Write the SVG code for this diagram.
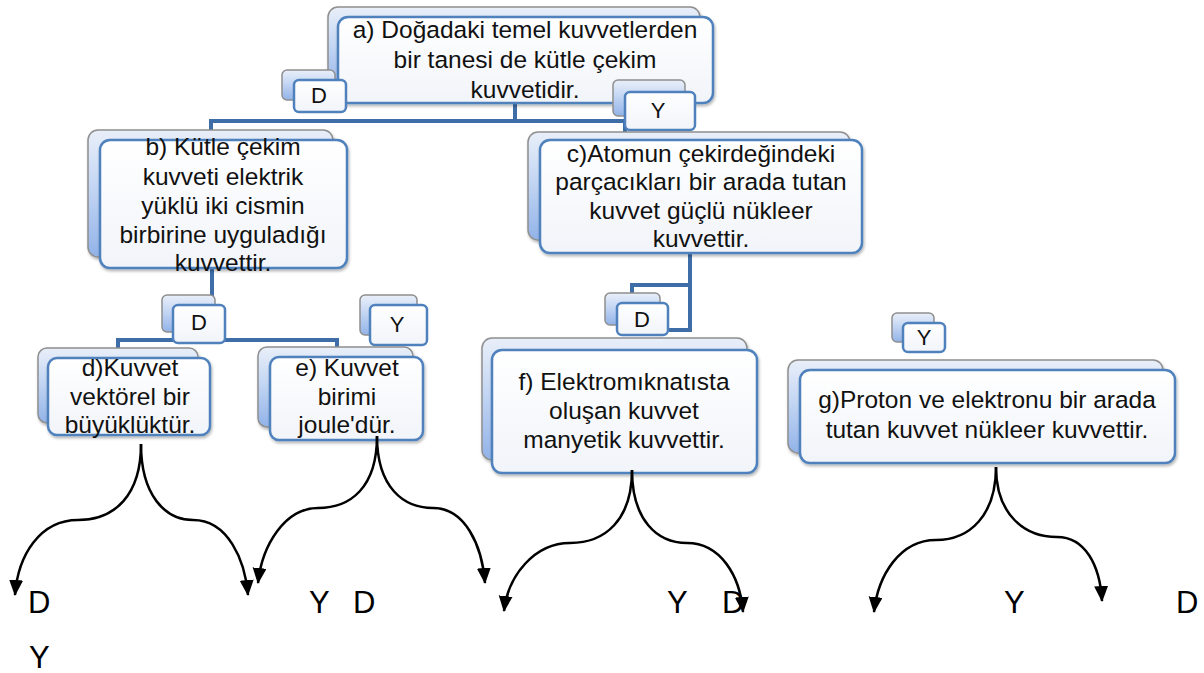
<svg xmlns="http://www.w3.org/2000/svg" width="1204" height="673" viewBox="0 0 1204 673">
<defs>
<linearGradient id="backG" x1="0" y1="0" x2="0" y2="1">
<stop offset="0" stop-color="#e9eff9"/>
<stop offset="0.4" stop-color="#c8d9f4"/>
<stop offset="1" stop-color="#92b3e8"/>
</linearGradient>
<linearGradient id="frontG" x1="0" y1="0" x2="0" y2="1">
<stop offset="0" stop-color="#ffffff"/>
<stop offset="1" stop-color="#f1f4f9"/>
</linearGradient>
<filter id="sh" x="-10%" y="-10%" width="130%" height="140%">
<feGaussianBlur in="SourceAlpha" stdDeviation="1.5"/>
<feOffset dx="1" dy="2" result="o"/>
<feComponentTransfer><feFuncA type="linear" slope="0.3"/></feComponentTransfer>
<feMerge><feMergeNode/><feMergeNode in="SourceGraphic"/></feMerge>
</filter>
<marker id="ah" markerUnits="userSpaceOnUse" markerWidth="16" markerHeight="18" refX="15" refY="7" orient="auto">
<path d="M0,0 L16,7 L0,14 Z" fill="#000"/>
</marker>
</defs>
<style>
.back{fill:url(#backG);stroke:#8f8f8f;stroke-width:1.5}
.front{fill:url(#frontG);stroke:#4f81bd;stroke-width:2.5}
.t{font-family:"Liberation Sans",Arial,sans-serif;font-size:24.5px;fill:#111;text-anchor:middle}
.lbl{font-family:"Liberation Sans",Arial,sans-serif;font-size:22px;fill:#111;text-anchor:middle}
.big{font-family:"Liberation Sans",Arial,sans-serif;font-size:31px;fill:#000}
.conn{fill:none;stroke:#3e6da8;stroke-width:4}
.arr{fill:none;stroke:#000;stroke-width:2.5;marker-end:url(#ah)}
</style>
<rect width="1204" height="673" fill="#fff"/>

<g id="connectors">
<polyline class="conn" points="515,103 515,121"/>
<polyline class="conn" points="211,132 211,121 625,121 625,134"/>
<polyline class="conn" points="212,268 212,297"/>
<polyline class="conn" points="118,350 118,340 337,340 337,349"/>
<polyline class="conn" points="690,253 690,330 666,330"/>
<polyline class="conn" points="690,285 632,285 632,296"/>
</g>

<g id="node-a">
<rect class="back" x="328" y="7" width="372" height="86" rx="10" filter="url(#sh)"/>
<rect class="front" x="338" y="17" width="375" height="86" rx="10" filter="url(#sh)"/>
<text class="t" x="525" y="38">a) Doğadaki temel kuvvetlerden</text>
<text class="t" x="525" y="68">bir tanesi de kütle çekim</text>
<text class="t" x="525" y="98">kuvvetidir.</text>
</g>
<g id="node-a-D">
<rect class="back" x="282" y="70" width="53" height="30" rx="5"/>
<rect class="front" x="294" y="80" width="52" height="32" rx="5"/>
<text class="lbl" x="319" y="103">D</text>
</g>
<g id="node-a-Y">
<rect class="back" x="613" y="80" width="72" height="36" rx="5"/>
<rect class="front" x="625" y="92" width="70" height="38" rx="5"/>
<text class="lbl" x="658" y="118">Y</text>
</g>

<g id="node-b">
<rect class="back" x="88" y="130" width="245" height="127" rx="10" filter="url(#sh)"/>
<rect class="front" x="100" y="140" width="247" height="128" rx="10" filter="url(#sh)"/>
<text class="t" x="223" y="155">b) Kütle çekim</text>
<text class="t" x="223" y="185">kuvveti elektrik</text>
<text class="t" x="223" y="214">yüklü iki cismin</text>
<text class="t" x="223" y="243">birbirine uyguladığı</text>
<text class="t" x="223" y="271">kuvvettir.</text>
</g>

<g id="node-c">
<rect class="back" x="528" y="132" width="322" height="108" rx="10" filter="url(#sh)"/>
<rect class="front" x="540" y="140" width="322" height="113" rx="10" filter="url(#sh)"/>
<text class="t" x="701" y="162">c)Atomun çekirdeğindeki</text>
<text class="t" x="701" y="190">parçacıkları bir arada tutan</text>
<text class="t" x="701" y="219">kuvvet güçlü nükleer</text>
<text class="t" x="701" y="247">kuvvettir.</text>
</g>

<g id="node-b-D">
<rect class="back" x="162" y="295" width="53" height="37" rx="5"/>
<rect class="front" x="173" y="305" width="52" height="38" rx="5"/>
<text class="lbl" x="199" y="330">D</text>
</g>
<g id="node-b-Y">
<rect class="back" x="360" y="295" width="57" height="40" rx="5"/>
<rect class="front" x="370" y="305" width="57" height="40" rx="5"/>
<text class="lbl" x="397" y="332">Y</text>
</g>

<g id="node-d">
<rect class="back" x="38" y="348" width="160" height="75" rx="9" filter="url(#sh)"/>
<rect class="front" x="48" y="358" width="162" height="77" rx="9" filter="url(#sh)"/>
<text class="t" x="130" y="376">d)Kuvvet</text>
<text class="t" x="130" y="405">vektörel bir</text>
<text class="t" x="130" y="433">büyüklüktür.</text>
</g>

<g id="node-e">
<rect class="back" x="258" y="347" width="155" height="80" rx="9" filter="url(#sh)"/>
<rect class="front" x="270" y="357" width="153" height="83" rx="9" filter="url(#sh)"/>
<text class="t" x="347" y="376">e) Kuvvet</text>
<text class="t" x="347" y="405">birimi</text>
<text class="t" x="347" y="433">joule'dür.</text>
</g>

<g id="node-f-D">
<rect class="back" x="605" y="293" width="55" height="32" rx="5"/>
<rect class="front" x="617" y="303" width="51" height="32" rx="5"/>
<text class="lbl" x="642" y="327">D</text>
</g>
<g id="node-f">
<rect class="back" x="482" y="338" width="265" height="122" rx="10" filter="url(#sh)"/>
<rect class="front" x="492" y="350" width="265" height="123" rx="10" filter="url(#sh)"/>
<text class="t" x="624" y="390">f) Elektromıknatısta</text>
<text class="t" x="624" y="419">oluşan kuvvet</text>
<text class="t" x="624" y="448">manyetik kuvvettir.</text>
</g>

<g id="node-g-Y">
<rect class="back" x="892" y="313" width="42" height="29" rx="5"/>
<rect class="front" x="903" y="323" width="42" height="29" rx="5"/>
<text class="lbl" x="924" y="345">Y</text>
</g>
<g id="node-g">
<rect class="back" x="788" y="360" width="375" height="93" rx="10" filter="url(#sh)"/>
<rect class="front" x="800" y="370" width="375" height="93" rx="10" filter="url(#sh)"/>
<text class="t" x="987" y="408">g)Proton ve elektronu bir arada</text>
<text class="t" x="987" y="438">tutan kuvvet nükleer kuvvettir.</text>
</g>

<g id="arrows">
<path class="arr" d="M141,444 C141,495 115,520 78,520 C40,520 18,555 15,595"/>
<path class="arr" d="M141,444 C141,495 165,520 193,520 C228,520 245,560 248,595"/>
<path class="arr" d="M377,436 C377,488 350,508 318,508 C285,508 262,545 258,583"/>
<path class="arr" d="M377,436 C377,488 404,508 433,508 C465,508 482,545 485,583"/>
<path class="arr" d="M632,470 C632,520 605,543 570,543 C535,543 508,575 504,611"/>
<path class="arr" d="M632,470 C632,520 657,543 687,543 C720,543 740,575 743,612"/>
<path class="arr" d="M996,467 C996,515 970,540 936,540 C900,540 878,575 874,612"/>
<path class="arr" d="M996,467 C996,515 1025,537 1057,537 C1085,537 1100,565 1102,601"/>
</g>

<g id="answers">
<text class="big" x="28" y="613">D</text>
<text class="big" x="29" y="668">Y</text>
<text class="big" x="309" y="613">Y</text>
<text class="big" x="353" y="613">D</text>
<text class="big" x="667" y="613">Y</text>
<text class="big" x="722" y="613">D</text>
<text class="big" x="1004" y="613">Y</text>
<text class="big" x="1176" y="613">D</text>
</g>
</svg>
